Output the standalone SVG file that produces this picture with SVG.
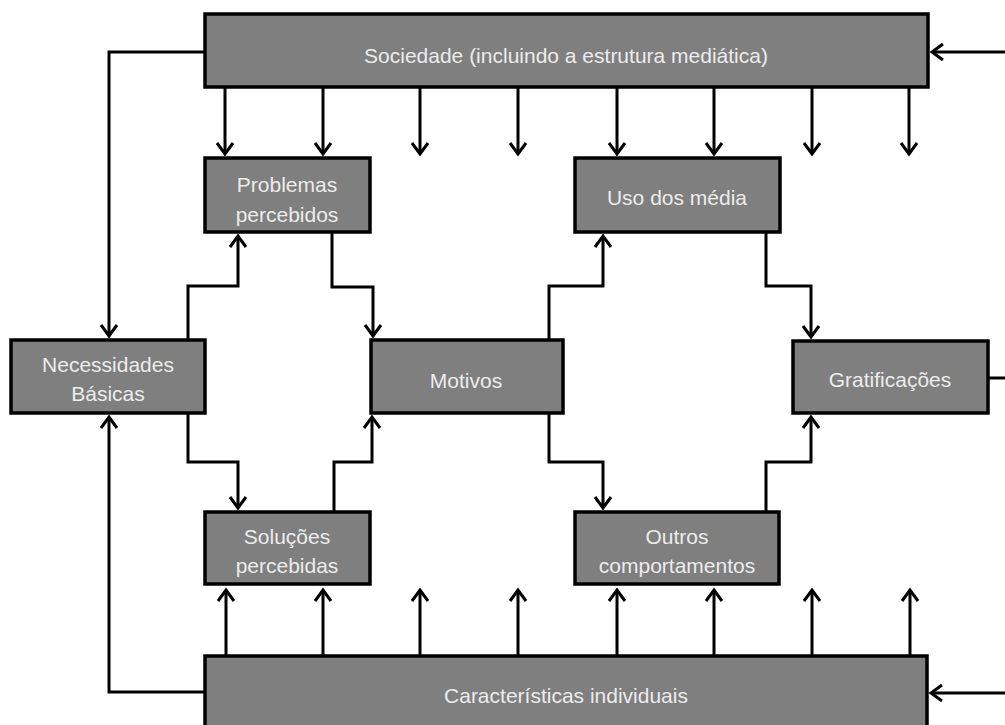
<svg xmlns="http://www.w3.org/2000/svg" width="1005" height="725" viewBox="0 0 1005 725">
<style>
.box{fill:#7f7f7f;stroke:#000;stroke-width:3.5}
.lbl{font-family:"Liberation Sans",Arial,sans-serif;font-size:21px;fill:#ececec;text-anchor:middle}
.c{fill:none;stroke:#000;stroke-width:3;stroke-linejoin:miter}
.a{marker-end:url(#ah)}
</style>
<defs>
<marker id="ah" markerUnits="userSpaceOnUse" markerWidth="30" markerHeight="30" viewBox="-15 -15 30 30" refX="0" refY="0" orient="auto" overflow="visible">
<path d="M-11,-8 L0,0 L-11,8" fill="none" stroke="#000" stroke-width="3"/>
</marker>
</defs>
<rect width="1005" height="725" fill="#fff"/>
<g id="sociedade"><rect class="box" x="205" y="14" width="723" height="73"/><text class="lbl" x="566" y="63">Sociedade (incluindo a estrutura mediática)</text></g>
<g id="problemas"><rect class="box" x="205" y="158" width="165" height="74"/><text class="lbl" x="287" y="192">Problemas</text><text class="lbl" x="287" y="222">percebidos</text></g>
<g id="uso"><rect class="box" x="575" y="158" width="205" height="74"/><text class="lbl" x="677" y="205">Uso dos média</text></g>
<g id="necessidades"><rect class="box" x="11" y="340" width="194" height="73"/><text class="lbl" x="108" y="372">Necessidades</text><text class="lbl" x="108" y="401">Básicas</text></g>
<g id="motivos"><rect class="box" x="371" y="340" width="192" height="73"/><text class="lbl" x="466" y="388">Motivos</text></g>
<g id="gratificacoes"><rect class="box" x="793" y="341" width="195" height="72"/><text class="lbl" x="890" y="387">Gratificações</text></g>
<g id="solucoes"><rect class="box" x="205" y="512" width="165" height="72"/><text class="lbl" x="287" y="544">Soluções</text><text class="lbl" x="287" y="573">percebidas</text></g>
<g id="outros"><rect class="box" x="575" y="512" width="204" height="72"/><text class="lbl" x="677" y="544">Outros</text><text class="lbl" x="677" y="573">comportamentos</text></g>
<g id="caracteristicas"><rect class="box" x="205" y="656" width="722" height="85"/><text class="lbl" x="566" y="703">Características  individuais</text></g>
<g id="connectors">
<path class="c a" d="M225,87 V154"/>
<path class="c a" d="M323,87 V154"/>
<path class="c a" d="M420,87 V154"/>
<path class="c a" d="M518,87 V154"/>
<path class="c a" d="M617,87 V154"/>
<path class="c a" d="M714,87 V154"/>
<path class="c a" d="M812,87 V154"/>
<path class="c a" d="M909,87 V154"/>
<path class="c a" d="M226,656 V590"/>
<path class="c a" d="M323,656 V590"/>
<path class="c a" d="M420,656 V590"/>
<path class="c a" d="M518,656 V590"/>
<path class="c a" d="M617,656 V590"/>
<path class="c a" d="M714,656 V590"/>
<path class="c a" d="M812,656 V590"/>
<path class="c a" d="M910,656 V590"/>
<path class="c a" d="M188,340 V286 H238 V236"/>
<path class="c a" d="M332,232 V287 H373 V336"/>
<path class="c a" d="M188,413 V462 H238 V508"/>
<path class="c a" d="M334,512 V462 H372 V417"/>
<path class="c a" d="M549,340 V286 H603 V236"/>
<path class="c a" d="M766,232 V286 H811 V337"/>
<path class="c a" d="M549,413 V462 H603 V508"/>
<path class="c a" d="M766,512 V462 H811 V417"/>
<path class="c a" d="M205,52 H109 V336"/>
<path class="c a" d="M205,692 H109 V417"/>
<path class="c a" d="M1005,52 H932"/>
<path class="c a" d="M1005,693 H931"/>
<path class="c" d="M988,378 H1005"/>
</g>
</svg>
